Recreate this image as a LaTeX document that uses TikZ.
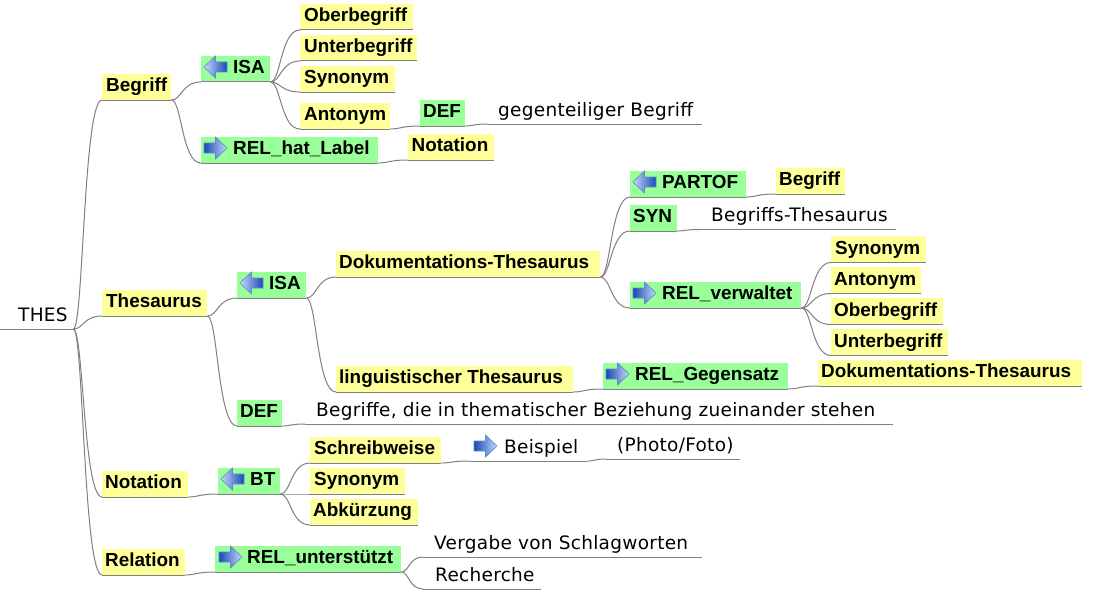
\documentclass[tikz,border=0pt]{standalone}
\usepackage{fontspec}
\setmainfont{Liberation Sans}
\newfontfamily\plainfam[LetterSpace=1.5]{DejaVu Sans}
\usetikzlibrary{calc}
\definecolor{yel}{HTML}{FFFF99}
\definecolor{grn}{HTML}{99FF99}
\definecolor{lin}{HTML}{808080}
\definecolor{arrdark}{HTML}{1848B8}
\definecolor{arrlight}{HTML}{C8DAF8}
\definecolor{arredge}{HTML}{5F88D0}
\tikzset{
 base/.style={anchor=south west,inner sep=0pt,text height=17.7pt,text depth=8.3pt,font=\bfseries\fontsize{18.9}{20}\selectfont},
 yelbox/.style={base,fill=yel},
 grnbox/.style={base,fill=grn},
 plainbox/.style={base,text depth=7.6pt,text height=18pt,font=\plainfam\fontsize{18.5}{20}\selectfont},
 conn/.style={draw=lin,line width=1pt},
 rarrow/.pic={\path[draw=arredge,line width=.6pt,left color=arrdark,right color=arrlight] (-11.5,-5) -- (0,-5) -- (0,-11) -- (11.5,0) -- (0,11) -- (0,5) -- (-11.5,5) -- cycle;},
 larrow/.pic={\path[draw=arredge,line width=.6pt,left color=arrlight,right color=arrdark] (11.5,-5) -- (0,-5) -- (0,-11) -- (-11.5,0) -- (0,11) -- (0,5) -- (11.5,5) -- cycle;}
}
% \nd{style}{name}{x0}{x1}{yline}{left inset}{text}
\newcommand{\nd}[7]{%
 \node[#1] (#2) at (#3,#5) {\makebox[\dimexpr #4pt-#3pt\relax][l]{\hspace*{#6pt}#7}};
 \draw[conn] (#2.south west) -- (#2.south east);
}
\newcommand{\cn}[2]{\draw[conn] let \p1=(#1.south east),\p2=(#2.south west),\n1={\x1+.35*(\x2-\x1)} in (\p1) .. controls (\n1,\y1) and (\n1,\y2) .. (\p2);}
\newcommand{\ic}[3][14.5]{\pic at ($(#2.south west)+(#1,-15)$) {#3};}
\begin{document}
\begin{tikzpicture}[x=1pt,y=-1pt]
\useasboundingbox[fill=white] (0,0) rectangle (1095,594);
\nd{plainbox}{thes}{0}{73}{329}{18}{THES}
% Begriff
\nd{yelbox}{begriff}{102}{171}{100}{4}{Begriff}
\nd{grnbox}{isaa}{201}{270}{82}{32}{ISA}
\nd{yelbox}{ober}{300}{413}{30}{4}{Oberbegriff}
\nd{yelbox}{unter}{300}{417}{61}{4}{Unterbegriff}
\nd{yelbox}{syn}{300}{395}{92}{4}{Synonym}
\nd{yelbox}{ant}{300}{390}{129}{4}{Antonym}
\nd{grnbox}{defa}{420}{465}{126}{3}{DEF}
\nd{plainbox}{geg}{488}{702}{124}{10}{gegenteiliger Begriff}
\nd{grnbox}{rel}{201}{378}{163}{32}{REL\_hat\_Label}
\nd{yelbox}{nota}{408}{494}{160}{3.5}{Notation}
% Thesaurus
\nd{yelbox}{thesaurus}{102}{207}{316}{4}{Thesaurus}
\nd{grnbox}{isab}{237}{306}{298}{32}{ISA}
\nd{yelbox}{dok}{336}{600}{277}{3}{Dokumentations-Thesaurus}
\nd{grnbox}{part}{630}{746}{197}{32}{PARTOF}
\nd{yelbox}{begb}{776}{845}{194}{3}{Begriff}
\nd{grnbox}{synb}{630}{677}{231}{3}{SYN}
\nd{plainbox}{bth}{700}{896}{229.5}{11}{Begriffs-Thesaurus}
\nd{grnbox}{verw}{630}{801}{308}{32}{REL\_verwaltet}
\nd{yelbox}{synr}{831}{926}{262.5}{4}{Synonym}
\nd{yelbox}{antr}{831}{921}{293.5}{3}{Antonym}
\nd{yelbox}{oberr}{831}{943}{324.5}{3}{Oberbegriff}
\nd{yelbox}{unterr}{831}{948}{355.5}{3}{Unterbegriff}
\nd{yelbox}{ling}{336}{573}{392}{3}{linguistischer Thesaurus}
\nd{grnbox}{geg2}{603}{788}{389}{32}{REL\_Gegensatz}
\nd{yelbox}{dok2}{818}{1082}{386}{3}{Dokumentations-Thesaurus}
\nd{grnbox}{defb}{237}{282}{426}{3}{DEF}
\nd{plainbox}{bez}{305}{893}{424}{11}{Begriffe, die in thematischer Beziehung zueinander stehen}
% Notation
\nd{yelbox}{notb}{102}{188}{497}{3}{Notation}
\nd{grnbox}{bt}{218}{280}{494}{32}{BT}
\nd{yelbox}{schr}{310}{441}{463}{4}{Schreibweise}
\nd{yelbox}{sync}{310}{405}{494}{4}{Synonym}
\nd{yelbox}{abk}{310}{418}{525}{3}{Abkürzung}
\nd{plainbox}{beis}{470}{588}{461}{34}{Beispiel}
\nd{plainbox}{photo}{606}{740}{459}{11}{(Photo/Foto)}
% Relation
\nd{yelbox}{relat}{102}{185}{575}{3}{Relation}
\nd{grnbox}{unterst}{215}{401}{572}{32}{REL\_unterstützt}
\nd{plainbox}{verg}{423}{702}{557}{11}{Vergabe von Schlagworten}
\nd{plainbox}{rech}{423}{541}{589}{12}{Recherche}
% connectors
\cn{thes}{begriff}\cn{thes}{thesaurus}\cn{thes}{notb}\cn{thes}{relat}
\cn{begriff}{isaa}\cn{begriff}{rel}
\cn{isaa}{ober}\cn{isaa}{unter}\cn{isaa}{syn}\cn{isaa}{ant}
\cn{ant}{defa}\cn{defa}{geg}\cn{rel}{nota}
\cn{thesaurus}{isab}\cn{thesaurus}{defb}\cn{defb}{bez}
\cn{isab}{dok}\cn{isab}{ling}
\cn{dok}{part}\cn{dok}{synb}\cn{dok}{verw}
\cn{part}{begb}\cn{synb}{bth}
\cn{verw}{synr}\cn{verw}{antr}\cn{verw}{oberr}\cn{verw}{unterr}
\cn{ling}{geg2}\cn{geg2}{dok2}
\cn{notb}{bt}\cn{bt}{schr}\cn{bt}{sync}\cn{bt}{abk}
\cn{schr}{beis}\cn{beis}{photo}
\cn{relat}{unterst}\cn{unterst}{verg}\cn{unterst}{rech}
% icons
\ic{isaa}{larrow}\ic{rel}{rarrow}\ic{isab}{larrow}\ic{part}{larrow}\ic{verw}{rarrow}\ic{geg2}{rarrow}\ic{bt}{larrow}\ic[15.5]{unterst}{rarrow}\ic[15.5]{beis}{rarrow}
\end{tikzpicture}
\end{document}
